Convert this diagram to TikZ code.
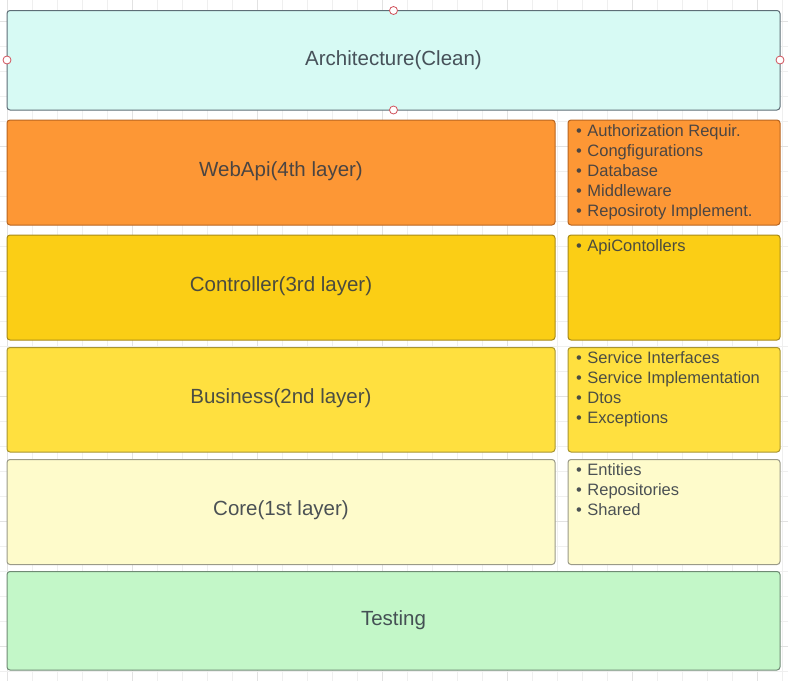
\documentclass[tikz,border=0pt]{standalone}
\usepackage{fontspec}
\setmainfont{Liberation Sans}
\newcommand{\bl}{•\hspace{5.5pt}}
\begin{document}
\begin{tikzpicture}[x=1pt,y=-1pt,
  layer/.style={draw=#1, line width=1pt, rounded corners=3pt},
  lbl/.style={font=\fontsize{20.5}{24}\selectfont, text=txt, text opacity=0.88},
  lst/.style={font=\fontsize{16.5}{20}\selectfont, text=txt, text opacity=0.88, anchor=north west, align=left, inner sep=0pt},
  handle/.style={circle, draw=hred, fill=white, line width=0.8pt, minimum size=8pt, inner sep=0pt}
]
\definecolor{txt}{HTML}{333A44}
\definecolor{hred}{HTML}{D0505A}
\definecolor{cArch}{HTML}{D7FAF4}
\definecolor{bArch}{HTML}{5E6E77}
\definecolor{cWeb}{HTML}{FD9735}
\definecolor{bWeb}{HTML}{B86520}
\definecolor{cCtl}{HTML}{FBCE15}
\definecolor{bCtl}{HTML}{A88A18}
\definecolor{cBus}{HTML}{FFE03F}
\definecolor{bBus}{HTML}{A89530}
\definecolor{cCore}{HTML}{FEFBCB}
\definecolor{bCore}{HTML}{9A9A88}
\definecolor{cTest}{HTML}{C3F7C8}
\definecolor{bTest}{HTML}{6F8A74}
\definecolor{gMinor}{HTML}{EFEFEF}
\definecolor{gMajor}{HTML}{E2E2E2}
\useasboundingbox (0,0) rectangle (788,681);
\fill[white] (0,0) rectangle (788,681);
% grid
\foreach \i in {0,...,31} {
  \pgfmathtruncatemacro{\xx}{7+25*\i}
  \pgfmathtruncatemacro{\mj}{mod(\i,5)}
  \ifnum\mj=0
    \draw[gMajor, line width=0.8pt] (\xx,0) -- (\xx,681);
  \else
    \draw[gMinor, line width=0.8pt] (\xx,0) -- (\xx,681);
  \fi
}
\foreach \j in {0,...,26} {
  \pgfmathtruncatemacro{\yy}{21+25*\j}
  \pgfmathtruncatemacro{\mj}{mod(\j,5)}
  \ifnum\mj=0
    \draw[gMajor, line width=0.8pt] (0,\yy) -- (788,\yy);
  \else
    \draw[gMinor, line width=0.8pt] (0,\yy) -- (788,\yy);
  \fi
}
% boxes
\draw[layer=bArch, fill=cArch] (7,10.5) rectangle (780,110);
\node[lbl] (arch) at (393.5,60.5) {Architecture(Clean)};

\draw[layer=bWeb, fill=cWeb] (7,120) rectangle (555,225);
\node[lbl] (web) at (281,171.5) {WebApi(4th layer)};
\draw[layer=bWeb, fill=cWeb] (568,120) rectangle (780,225);
\node[lst] (webl) at (576,124.5) {\bl Authorization Requir.\\\bl Congfigurations\\\bl Database\\\bl Middleware\\\bl Reposiroty Implement.};

\draw[layer=bCtl, fill=cCtl] (7,235) rectangle (555,340);
\node[lbl] (ctl) at (281,286.5) {Controller(3rd layer)};
\draw[layer=bCtl, fill=cCtl] (568,235) rectangle (780,340);
\node[lst] (ctll) at (576,239.5) {\bl ApiContollers};

\draw[layer=bBus, fill=cBus] (7,347.5) rectangle (555,452);
\node[lbl] (bus) at (281,398.5) {Business(2nd layer)};
\draw[layer=bBus, fill=cBus] (568,347.5) rectangle (780,452);
\node[lst] (busl) at (576,351.5) {\bl Service Interfaces\\\bl Service Implementation\\\bl Dtos\\\bl Exceptions};

\draw[layer=bCore, fill=cCore] (7,459.5) rectangle (555,564.5);
\node[lbl] (core) at (281,510.5) {Core(1st layer)};
\draw[layer=bCore, fill=cCore] (568,459.5) rectangle (780,564.5);
\node[lst] (corel) at (576,463.5) {\bl Entities\\\bl Repositories\\\bl Shared};

\draw[layer=bTest, fill=cTest] (7,571.5) rectangle (780,670);
\node[lbl] (test) at (393.5,620.5) {Testing};

% selection handles
\node[handle] (h1) at (393.5,10.5) {};
\node[handle] (h2) at (393.5,110) {};
\node[handle] (h3) at (7,60) {};
\node[handle] (h4) at (780,60) {};
\end{tikzpicture}
\end{document}
